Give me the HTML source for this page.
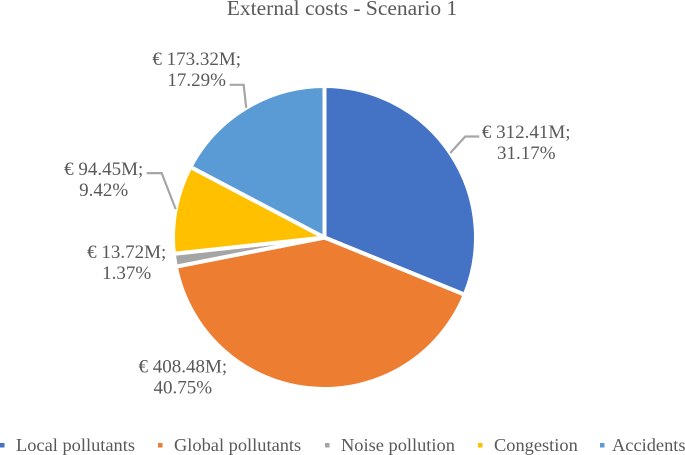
<!DOCTYPE html>
<html>
<head>
<meta charset="utf-8">
<style>
html,body{margin:0;padding:0;background:#fff;}
svg{display:block;}
text{font-family:"Liberation Serif",serif;fill:#595959;}
</style>
</head>
<body>
<svg id="chart" width="685" height="455" viewBox="0 0 685 455" xmlns="http://www.w3.org/2000/svg">
<text x="342" y="15" text-anchor="middle" font-size="21.5">External costs - Scenario 1</text>
<g id="slices"></g>
<g id="leaders"></g>
<g id="labels"></g>
<g id="legend"></g>
</svg>
<script>
const categories = ["Local pollutants", "Global pollutants", "Noise pollution", "Congestion", "Accidents"];
const values = [312.41, 408.48, 13.72, 94.45, 173.32];
const valueLabels = ["€ 312.41M;", "€ 408.48M;", "€ 13.72M;", "€ 94.45M;", "€ 173.32M;"];
const percentLabels = ["31.17%", "40.75%", "1.37%", "9.42%", "17.29%"];
const colors = ["#4472C4", "#ED7D31", "#A5A5A5", "#FFC000", "#5B9BD5"];

const NS = "http://www.w3.org/2000/svg";
const cx = 324.5, cy = 237.5, r = 151.5;
const legendX = [0, 158, 325, 478, 600];
const legendTextX = [16, 174, 341, 494, 612];
// label centre offset from the rim point at each slice's mid-angle
const labelOffset = [[76, -15], [-127, -16], [-48, -2], [-72, -34], [-49.5, -43]];
// leader elbow offsets from the rim point; null = no leader
const elbowOffset = [[15, -16.5], null, null, [-14, -36], [-2.5, -23]];
const leaderRun = [14, 0, 0, -15, -14];
const total = values.reduce((a, b) => a + b, 0);

function pt(angle, radius) {
  return [cx + radius * Math.sin(angle), cy - radius * Math.cos(angle)];
}

const slices = document.getElementById("slices");
const leaders = document.getElementById("leaders");
const labels = document.getElementById("labels");
const legend = document.getElementById("legend");

let acc = 0;
values.forEach(function (v, i) {
  const a0 = acc / total * 2 * Math.PI;
  acc += v;
  const a1 = acc / total * 2 * Math.PI;
  const mid = (a0 + a1) / 2;
  const p0 = pt(a0, r), p1 = pt(a1, r);
  const large = a1 - a0 > Math.PI ? 1 : 0;

  const path = document.createElementNS(NS, "path");
  path.setAttribute("d", "M" + cx + " " + cy + "L" + p0[0] + " " + p0[1] + "A" + r + " " + r + " 0 " + large + " 1 " + p1[0] + " " + p1[1] + "Z");
  path.setAttribute("fill", colors[i]);
  path.setAttribute("stroke", "#fff");
  path.setAttribute("stroke-width", "4");
  path.setAttribute("stroke-linejoin", "miter");
  
  
  slices.appendChild(path);

  const rim = pt(mid, r);
  if (elbowOffset[i]) {
    const ex = rim[0] + elbowOffset[i][0], ey = rim[1] + elbowOffset[i][1];
    const line = document.createElementNS(NS, "polyline");
    line.setAttribute("points", rim[0] + "," + rim[1] + " " + ex + "," + ey + " " + (ex + leaderRun[i]) + "," + ey);
    line.setAttribute("fill", "none");
    line.setAttribute("stroke", "#A6A6A6");
    line.setAttribute("stroke-width", "2.2");
    
    
    leaders.appendChild(line);
  }

  const lx = rim[0] + labelOffset[i][0], ly = rim[1] + labelOffset[i][1];
  const t = document.createElementNS(NS, "text");
  t.setAttribute("text-anchor", "middle");
  t.setAttribute("font-size", "19");
  
  
  const s1 = document.createElementNS(NS, "tspan");
  s1.setAttribute("x", lx);
  s1.setAttribute("y", ly);
  s1.textContent = valueLabels[i];
  const s2 = document.createElementNS(NS, "tspan");
  s2.setAttribute("x", lx);
  s2.setAttribute("y", ly + 21);
  s2.textContent = percentLabels[i];
  t.appendChild(s1);
  t.appendChild(s2);
  labels.appendChild(t);
});

categories.forEach(function (c, i) {
  const m = document.createElementNS(NS, "rect");
  m.setAttribute("x", legendX[i]);
  m.setAttribute("y", 443);
  m.setAttribute("width", 4.5);
  m.setAttribute("height", 4.5);
  m.setAttribute("fill", colors[i]);
  
  
  legend.appendChild(m);
  const t = document.createElementNS(NS, "text");
  t.setAttribute("x", legendTextX[i]);
  t.setAttribute("y", 451);
  t.setAttribute("font-size", "18.4");
  
  
  t.textContent = c;
  legend.appendChild(t);
});
</script>
</body>
</html>
